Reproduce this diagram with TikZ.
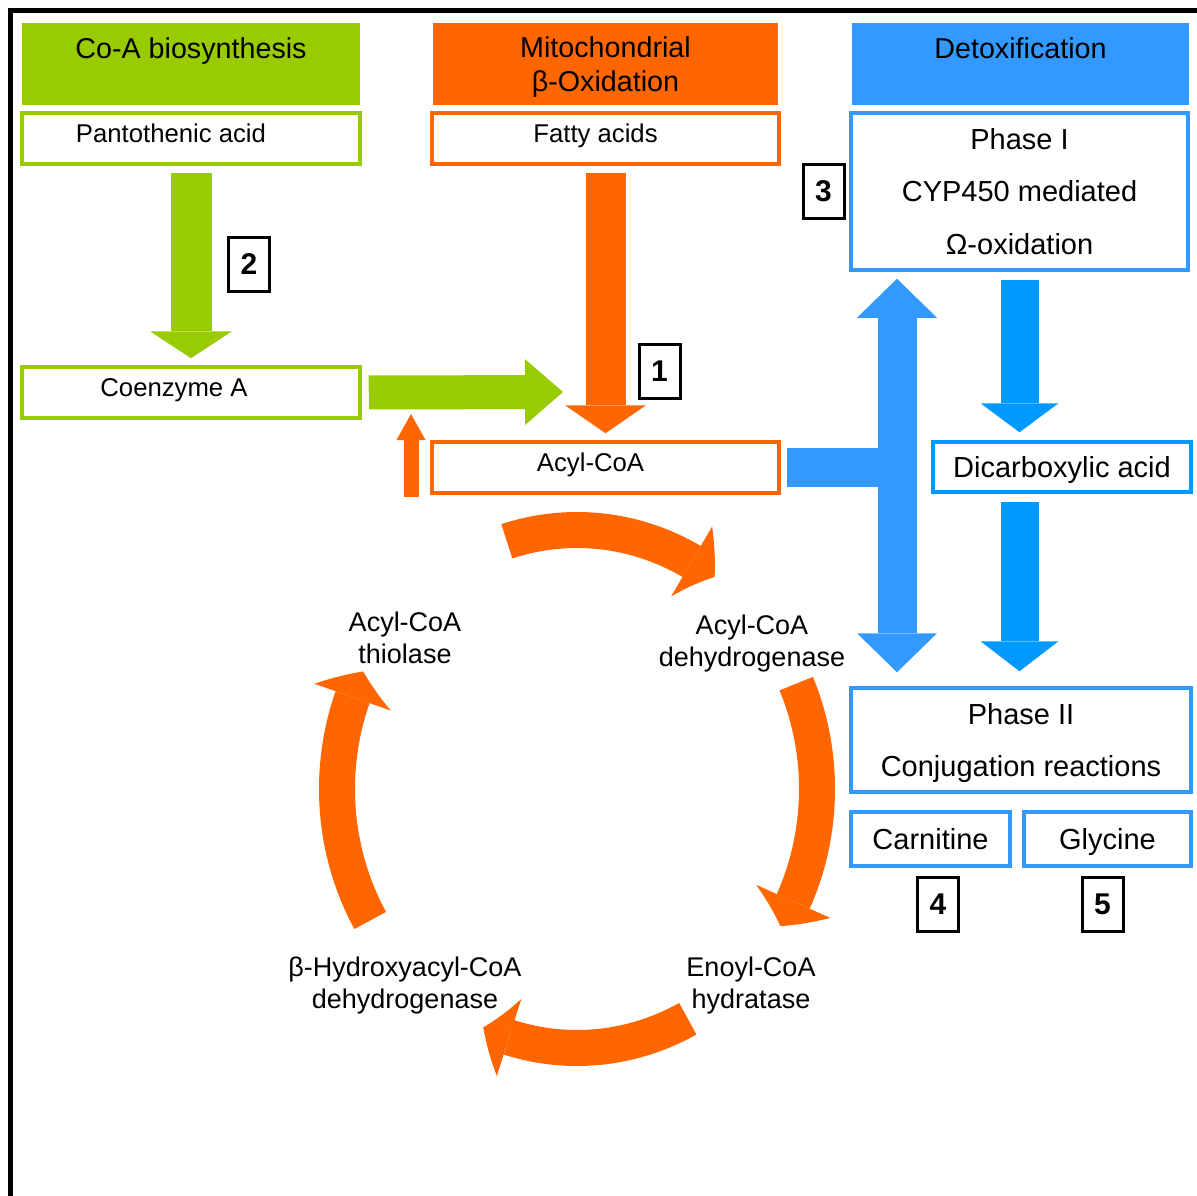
\documentclass[tikz,border=0pt]{standalone}
\usepackage{fontspec}
\setmainfont{Liberation Sans}
\usetikzlibrary{arrows.meta,bending,positioning,calc}

\definecolor{cgreen}{HTML}{99CC00}
\definecolor{corange}{HTML}{FF6600}
\definecolor{cblue}{HTML}{3399FF}
\definecolor{cdblue}{HTML}{0099FF}

\newcommand{\hdfont}{\fontsize{28.7}{34}\selectfont}
\newcommand{\bxfont}{\fontsize{25.7}{30}\selectfont}
\newcommand{\dtfont}{\fontsize{29}{52.5}\selectfont}
\newcommand{\enfont}{\fontsize{27}{32}\selectfont}
\newcommand{\nmfont}{\fontsize{30}{34}\selectfont\bfseries}

\tikzset{
  head/.style={inner sep=0pt, minimum height=82},
  headtext/.style={inner sep=0pt, font=\hdfont, align=center},
  obox/.style={draw=#1, line width=3.5pt, inner sep=0pt, minimum height=51},
  boxtext/.style={inner sep=0pt, font=\bxfont, anchor=base},
  dbox/.style={draw=#1, line width=3.5pt, inner sep=0pt, font=\dtfont, align=center},
  numbox/.style={draw, line width=3pt, inner sep=0pt, minimum width=41, minimum height=54, font=\nmfont},
  enzyme/.style={inner sep=0pt, font=\enfont, align=center, anchor=north},
  fatarrow/.style n args={4}{color=#1, line width=#2, -{Triangle[width=#3, length=#4, line width=0pt]}},
  cycarrow/.style={color=corange, line width=36pt, -{Triangle[width=81pt, length=28pt, line width=0pt, bend]}},
}

\begin{document}
\begin{tikzpicture}[x=1pt, y=-1pt]
\useasboundingbox (0,0) rectangle (1197,1196);

% Frame on the left and on top
\draw[line width=5pt] (1197,11) -- (10,11) -- (10,1196);

% Three coloured headers
\foreach \n/\x/\w/\c in {cohead/191/338/cgreen, mitohead/605.5/345/corange, detoxhead/1020.5/337/cblue} {
    \node[head, fill=\c, minimum width=\w] (\n) at (\x,64) {};
}
\node[headtext, anchor=base] (cotitle) at (191,59) {Co-A biosynthesis};
\node[headtext, anchor=north] (mitotitle) at (605.5,37) {Mitochondrial\\β-Oxidation};
\node[headtext, anchor=base] (detoxtitle) at (1020.5,59) {Detoxification};

% Substrate boxes, text a little left of centre
\foreach \n/\c/\x/\y/\w/\dx/\t in {pant/cgreen/191/138.5/338/-20/Pantothenic acid, fatty/corange/605.5/138.5/347/-10/Fatty acids, coa/cgreen/191/392.5/338/-17/Coenzyme A, acyl/corange/605.5/467.5/347/-15/Acyl-CoA} {
    \node[obox=\c, minimum width=\w] (\n) at (\x,\y) {};
    \node[boxtext] (\n text) at ([xshift=\dx pt, yshift=-4pt]\n.center) {\t};
}

% Detoxification boxes
\node[dbox=cblue, minimum width=337, minimum height=157] (phaseone) at (1019.5,191.5) {Phase I\\CYP450 mediated\\Ω-oxidation};
\node[dbox=cdblue, minimum width=258, minimum height=50, text height=21pt, text depth=0pt] (dicarb) at (1062,467) {Dicarboxylic acid};
\node[dbox=cblue, minimum width=340, minimum height=104, text depth=0pt] (phasetwo) at (1021,740) {Phase II\\Conjugation reactions};
\node[dbox=cblue, minimum width=159, minimum height=54, text height=21pt, text depth=0pt] (carn) at (930.5,839) {Carnitine};
\node[dbox=cblue, minimum width=167, minimum height=54, text height=21pt, text depth=0pt] (gly) at (1107.5,839) {Glycine};

% Numbered tags
\foreach \n/\x/\y in {1/659.5/371, 2/249/264, 3/823.5/191.5, 4/938/904.5, 5/1102.5/904.5} {
    \node[numbox] (num\n) at (\x,\y) {\n};
}

% Enzymes of the cycle
\node[enzyme] (thiolase) at (405,612) {Acyl-CoA\\thiolase};
\node[enzyme] (acdh) at (752,615) {Acyl-CoA\\dehydrogenase};
\node[enzyme] (hydratase) at (751,957) {Enoyl-CoA\\hydratase};
\node[enzyme] (hadh) at (405,957) {β-Hydroxyacyl-CoA\\dehydrogenase};

% Straight arrows
\coordinate (coatip) at (563,392);
\coordinate (recycle) at (411,497);
\coordinate (recycletip) at (411,414);
\coordinate (tee) at (897,465);
\draw[fatarrow={cgreen}{41pt}{82pt}{27pt}, shorten <=7pt, shorten >=7pt] (pant.south) -- (coa.north);
\draw[fatarrow={cgreen}{34pt}{66pt}{38pt}, shorten <=7pt] (coa.east) -- (coatip);
\draw[fatarrow={corange}{40pt}{81pt}{28pt}, shorten <=7pt, shorten >=7pt] (fatty.south) -- (acyl.north);
\draw[fatarrow={corange}{15pt}{29pt}{26pt}] (recycle) -- (recycletip);

% Detoxification arrows
\draw[cblue, line width=39pt, shorten <=6pt] (acyl.east) -- (acyl.east -| tee);
\draw[cblue, line width=39pt, {Triangle[width=80pt, length=39pt, line width=0pt]}-{Triangle[width=80pt, length=39pt, line width=0pt]}, shorten <=7pt, shorten >=14pt] (tee |- phaseone.south) -- (tee |- phasetwo.north);
\draw[fatarrow={cdblue}{38pt}{78pt}{29pt}, shorten <=8pt, shorten >=8pt] (phaseone.south) -- (phaseone.south |- dicarb.north);
\draw[fatarrow={cdblue}{38pt}{78pt}{30pt}, shorten <=8pt, shorten >=15pt] (phaseone.south |- dicarb.south) -- (phaseone.south |- phasetwo.north);

% Beta-oxidation cycle
\coordinate (cyc) at (577,789);
\foreach \s/\e in {-107/-55, -24/32, 62.5/113, 149.5/207} {
    \draw[cycarrow] (cyc) ++(\s:240 and 259) arc[start angle=\s, end angle=\e, x radius=240, y radius=259];
}

\end{tikzpicture}
\end{document}
